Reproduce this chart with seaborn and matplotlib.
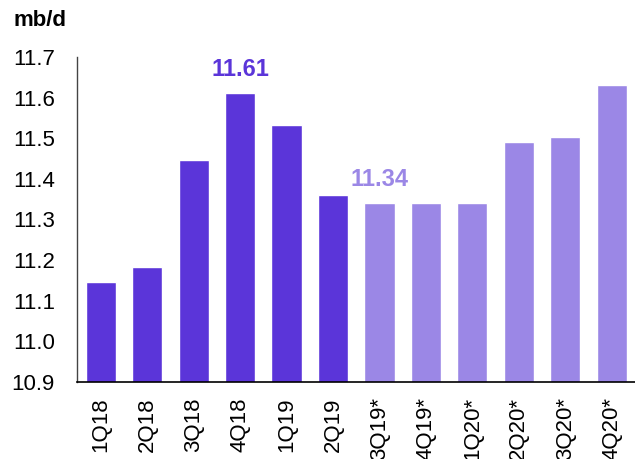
import numpy as np
import pandas as pd
import matplotlib.pyplot as plt
import seaborn as sns

# --- data ---
quarters = ['1Q18', '2Q18', '3Q18', '4Q18', '1Q19', '2Q19',
            '3Q19*', '4Q19*', '1Q20*', '2Q20*', '3Q20*', '4Q20*']
supply = [11.145, 11.183, 11.447, 11.61, 11.532, 11.36,
          11.34, 11.34, 11.34, 11.49, 11.502, 11.63]
kind = ['Actual'] * 6 + ['Forecast'] * 6

dark = '#5B35D9'
light = '#9B87E6'

df = pd.DataFrame({'Quarter': quarters, 'Supply': supply, 'Kind': kind})

sns.set_style('white')
plt.rcParams['font.family'] = ['Liberation Sans', 'DejaVu Sans']
plt.rcParams['text.color'] = 'black'
plt.rcParams['xtick.color'] = 'black'
plt.rcParams['ytick.color'] = 'black'

fig = plt.figure(figsize=(6.35, 4.59), dpi=100)
ax = fig.add_axes([0.122, 0.168, 0.878, 0.708])

sns.barplot(data=df, x='Quarter', y='Supply', hue='Kind',
            palette={'Actual': dark, 'Forecast': light},
            dodge=False, width=0.65, saturation=1, legend=False, ax=ax)

ax.set_ylim(10.9, 11.7)
ax.set_yticks(np.arange(10.9, 11.71, 0.1))
ax.set_yticklabels([f'{v:.1f}' for v in np.arange(10.9, 11.71, 0.1)])
ax.set_xlim(-0.5, len(quarters) - 0.5)

# ticks between categories
ax.set_xticks(np.arange(len(quarters)))
ax.set_xticklabels(quarters, rotation=90, fontsize=16)
ax.set_xticks(np.arange(len(quarters) + 1) - 0.5, minor=True)
ax.tick_params(axis='x', which='major', length=0, pad=11)
ax.tick_params(axis='x', which='minor', length=4, width=1, color='black', direction='out')
ax.tick_params(axis='y', length=4.3, width=1, color='#444444', direction='out', labelsize=16, pad=12)

for s in ['top', 'right']:
    ax.spines[s].set_visible(False)
ax.spines['left'].set_color('#444444')
ax.spines['left'].set_linewidth(1)
ax.spines['bottom'].set_color('black')
ax.spines['bottom'].set_linewidth(1.2)

ax.set_xlabel('')
ax.set_ylabel('')

# value labels
ax.text(3, 11.61 + 0.03, '11.61', ha='center', va='bottom', fontsize=17,
        fontweight='bold', color=dark)
ax.text(6, 11.34 + 0.03, '11.34', ha='center', va='bottom', fontsize=17,
        fontweight='bold', color=light)

fig.text(0.022, 0.955, 'mb/d', ha='left', va='center', fontsize=16, fontweight='bold')

fig.savefig('out.png', dpi=100)
